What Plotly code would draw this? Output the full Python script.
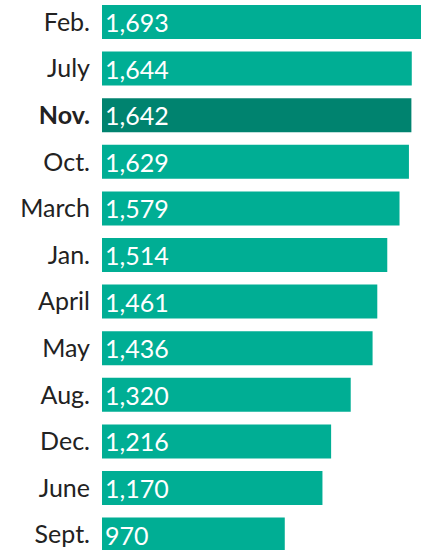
import plotly.graph_objects as go

months = ["Feb.", "July", "Nov.", "Oct.", "March", "Jan.", "April", "May", "Aug.", "Dec.", "June", "Sept."]
values = [1693, 1644, 1642, 1629, 1579, 1514, 1461, 1436, 1320, 1216, 1170, 970]
highlight = "Nov."

colors = ["#00836f" if m == highlight else "#00ae94" for m in months]
ticktext = [f"<b>{m}</b>" if m == highlight else m for m in months]
text = [f"{v:,}" for v in values]

FS = 25
fig = go.Figure(go.Bar(
    x=values, y=months, orientation="h",
    marker=dict(color=colors, line=dict(width=0)),
    text=text, textposition="inside", insidetextanchor="start",
    textfont=dict(color="white", size=FS, family="Lato"),
    width=0.73, cliponaxis=False, hoverinfo="skip",
))
fig.update_layout(
    width=428, height=550,
    margin=dict(l=102, r=7, t=0, b=0),
    paper_bgcolor="white", plot_bgcolor="white",
    showlegend=False,
    font=dict(family="Lato", size=FS, color="#222222"),
    uniformtext=dict(minsize=FS, mode="show"),
)
fig.update_xaxes(range=[0, 1693], visible=False, fixedrange=True, automargin=False)
fig.update_yaxes(
    categoryorder="array", categoryarray=months,
    tickmode="array", tickvals=months, ticktext=ticktext,
    range=[11.33, -0.472], showgrid=False, zeroline=False, showline=False,
    ticks="outside", ticklen=6, tickcolor="rgba(0,0,0,0)", automargin=False,
    fixedrange=True,
    tickfont=dict(size=FS, color="#222222", family="Lato"),
)
fig.write_html(
    "out.html",
    config={"displayModeBar": False, "staticPlot": True},
    post_script="document.body.style.margin='0';document.body.style.overflow='hidden';",
)
